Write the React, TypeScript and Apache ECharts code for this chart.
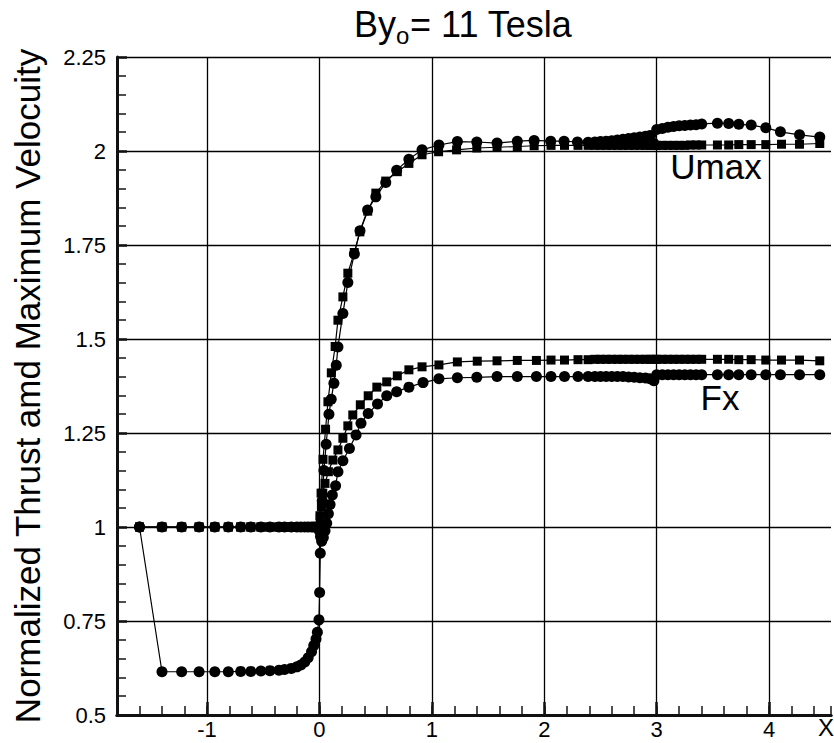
import React, { useEffect, useRef } from "react";
import * as echarts from "echarts";

// ---- Data ----
const X_MAJOR_TICKS = [-1, 0, 1, 2, 3, 4];
const Y_TICKS = [0.5, 0.75, 1, 1.25, 1.5, 1.75, 2, 2.25];

// Umax, circle markers
const umaxCircles: [number, number][] = [
  [-1.6, 1.0], [-1.4, 0.615], [-1.225, 0.615], [-1.07, 0.615], [-0.93, 0.615], [-0.81, 0.615],
  [-0.7, 0.616], [-0.61, 0.616], [-0.52, 0.617], [-0.44, 0.618], [-0.36, 0.619], [-0.31, 0.621],
  [-0.25, 0.624], [-0.2, 0.628], [-0.165, 0.633], [-0.13, 0.641], [-0.1, 0.652], [-0.07, 0.668],
  [-0.05, 0.685], [-0.03, 0.702], [-0.018, 0.72], [-0.004, 0.753], [0.002, 0.826], [0.008, 0.93],
  [0.015, 1.0], [0.025, 1.07], [0.04, 1.15], [0.06, 1.22], [0.085, 1.3], [0.105, 1.34],
  [0.129, 1.382], [0.15, 1.43], [0.165, 1.479], [0.209, 1.568], [0.253, 1.65], [0.311, 1.726],
  [0.361, 1.788], [0.429, 1.843], [0.502, 1.878], [0.59, 1.916], [0.687, 1.949], [0.796, 1.978],
  [0.913, 2.003], [1.063, 2.016], [1.227, 2.025], [1.4, 2.024], [1.58, 2.021], [1.76, 2.026],
  [1.91, 2.028], [2.057, 2.026], [2.176, 2.026], [2.295, 2.024], [2.39, 2.023], [2.45, 2.024],
  [2.5, 2.025], [2.55, 2.026], [2.6, 2.027], [2.65, 2.029], [2.7, 2.031], [2.75, 2.033],
  [2.8, 2.035], [2.85, 2.037], [2.9, 2.039], [2.94, 2.041], [2.975, 2.02], [3.0, 2.057],
  [3.05, 2.06], [3.1, 2.063], [3.15, 2.065], [3.2, 2.067], [3.25, 2.068], [3.3, 2.069],
  [3.35, 2.07], [3.4, 2.072], [3.54, 2.074], [3.64, 2.073], [3.73, 2.071], [3.84, 2.069],
  [3.97, 2.062], [4.1, 2.051], [4.27, 2.043], [4.45, 2.037],
];

// Umax, square markers
const umaxSquares: [number, number][] = [
  [-1.6, 1.0], [-1.4, 1.0], [-1.225, 1.0], [-1.07, 1.0], [-0.93, 1.0], [-0.81, 1.0],
  [-0.7, 1.0], [-0.61, 1.0], [-0.52, 1.0], [-0.44, 1.0], [-0.36, 1.0], [-0.31, 1.0],
  [-0.25, 1.0], [-0.2, 1.0], [-0.165, 1.0], [-0.13, 1.0], [-0.1, 1.0], [-0.07, 1.0],
  [-0.05, 1.0], [-0.03, 1.0], [-0.018, 1.0], [-0.006, 1.0], [0.0, 1.0], [0.005, 1.03],
  [0.015, 1.09], [0.032, 1.18], [0.055, 1.26], [0.076, 1.333], [0.106, 1.41], [0.14, 1.48],
  [0.165, 1.55], [0.209, 1.612], [0.253, 1.675], [0.31, 1.73], [0.36, 1.785], [0.43, 1.84],
  [0.502, 1.888], [0.59, 1.92], [0.693, 1.945], [0.796, 1.967], [0.913, 1.99], [1.06, 1.998],
  [1.22, 2.003], [1.4, 2.008], [1.58, 2.01], [1.76, 2.012], [1.91, 2.014], [2.06, 2.015],
  [2.18, 2.015], [2.3, 2.015], [2.39, 2.015], [2.45, 2.015], [2.5, 2.015], [2.55, 2.015],
  [2.6, 2.015], [2.65, 2.015], [2.7, 2.015], [2.75, 2.015], [2.8, 2.015], [2.85, 2.015],
  [2.9, 2.015], [2.94, 2.015], [2.975, 2.015], [3.0, 2.015], [3.05, 2.015], [3.1, 2.015],
  [3.15, 2.015], [3.2, 2.015], [3.25, 2.015], [3.3, 2.016], [3.35, 2.016], [3.4, 2.016],
  [3.54, 2.016], [3.64, 2.016], [3.73, 2.017], [3.84, 2.017], [3.97, 2.017], [4.11, 2.018],
  [4.27, 2.018], [4.45, 2.02],
];

// Fx, circle markers
const fxCircles: [number, number][] = [
  [-1.6, 1.0], [-1.4, 1.0], [-1.225, 1.0], [-1.07, 1.0], [-0.93, 1.0], [-0.81, 1.0],
  [-0.7, 1.0], [-0.61, 1.0], [-0.52, 1.0], [-0.44, 1.0], [-0.36, 1.0], [-0.31, 1.0],
  [-0.25, 1.0], [-0.2, 1.0], [-0.165, 1.0], [-0.13, 1.0], [-0.1, 1.0], [-0.07, 1.0],
  [-0.05, 1.0], [-0.03, 1.0], [-0.018, 1.0], [-0.006, 1.0], [0.0, 0.99], [0.01, 0.975],
  [0.02, 0.962], [0.035, 0.972], [0.05, 0.99], [0.065, 1.01], [0.08, 1.035], [0.095, 1.06],
  [0.115, 1.085], [0.144, 1.11], [0.165, 1.147], [0.209, 1.176], [0.267, 1.209], [0.326, 1.245],
  [0.37, 1.276], [0.434, 1.302], [0.517, 1.327], [0.599, 1.349], [0.687, 1.36], [0.796, 1.372],
  [0.922, 1.384], [1.063, 1.394], [1.227, 1.397], [1.4, 1.398], [1.58, 1.4], [1.76, 1.4],
  [1.93, 1.4], [2.06, 1.4], [2.18, 1.4], [2.3, 1.4], [2.39, 1.4], [2.45, 1.4],
  [2.5, 1.4], [2.55, 1.4], [2.6, 1.4], [2.65, 1.4], [2.7, 1.4], [2.75, 1.399],
  [2.8, 1.398], [2.85, 1.397], [2.9, 1.396], [2.94, 1.394], [2.975, 1.389], [3.0, 1.405],
  [3.05, 1.405], [3.1, 1.405], [3.15, 1.405], [3.2, 1.405], [3.25, 1.405], [3.3, 1.405],
  [3.35, 1.405], [3.4, 1.405], [3.54, 1.405], [3.64, 1.405], [3.73, 1.405], [3.84, 1.405],
  [3.97, 1.405], [4.1, 1.405], [4.27, 1.405], [4.45, 1.405],
];

// Fx, square markers
const fxSquares: [number, number][] = [
  [-1.6, 1.0], [-1.4, 1.0], [-1.225, 1.0], [-1.07, 1.0], [-0.93, 1.0], [-0.81, 1.0],
  [-0.7, 1.0], [-0.61, 1.0], [-0.52, 1.0], [-0.44, 1.0], [-0.36, 1.0], [-0.31, 1.0],
  [-0.25, 1.0], [-0.2, 1.0], [-0.165, 1.0], [-0.13, 1.0], [-0.1, 1.0], [-0.07, 1.0],
  [-0.05, 1.0], [-0.03, 1.0], [-0.018, 1.0], [-0.006, 1.0], [0.0, 1.0], [0.008, 1.023],
  [0.018, 1.054], [0.03, 1.09], [0.05, 1.116], [0.08, 1.147], [0.12, 1.178], [0.165, 1.205],
  [0.209, 1.236], [0.253, 1.269], [0.297, 1.298], [0.364, 1.325], [0.434, 1.349], [0.511, 1.372],
  [0.599, 1.386], [0.693, 1.402], [0.796, 1.418], [0.913, 1.426], [1.063, 1.431], [1.227, 1.439],
  [1.404, 1.441], [1.58, 1.442], [1.76, 1.443], [1.93, 1.443], [2.06, 1.444], [2.18, 1.444],
  [2.3, 1.445], [2.39, 1.445], [2.45, 1.446], [2.5, 1.446], [2.55, 1.446], [2.6, 1.446],
  [2.65, 1.446], [2.7, 1.446], [2.75, 1.446], [2.8, 1.446], [2.85, 1.446], [2.9, 1.446],
  [2.94, 1.446], [2.975, 1.446], [3.0, 1.446], [3.05, 1.446], [3.1, 1.446], [3.15, 1.446],
  [3.2, 1.446], [3.25, 1.446], [3.3, 1.446], [3.35, 1.446], [3.4, 1.446], [3.54, 1.446],
  [3.64, 1.446], [3.73, 1.445], [3.84, 1.445], [3.97, 1.444], [4.11, 1.444], [4.27, 1.444],
  [4.45, 1.442],
];

const FONT = "'Liberation Sans', Arial, Helvetica, sans-serif";
const AXIS_COLOR = "#111111";
const TICK_COLOR = "#121212";
const MINOR_COLOR = "#141414";

export default function App() {
  const ref = useRef<HTMLDivElement>(null);

  useEffect(() => {
    if (!ref.current) return;
    const chart = echarts.init(ref.current, undefined, { renderer: "svg" });

    const mkSeries = (name: string, data: [number, number][], symbol: string, size: number) => ({
      name,
      type: "line",
      data,
      symbol,
      symbolSize: size,
      showSymbol: true,
      lineStyle: { color: "#000", width: 1.2 },
      itemStyle: { color: "#000", borderWidth: 0 },
    });

    chart.setOption({
      animation: false,
      backgroundColor: "#fff",
      grid: { left: 117, right: 0, top: 57, bottom: 28 },
      xAxis: [
        {
          type: "value",
          min: -1.8,
          max: 4.55,
          position: "bottom",
          axisLine: { show: true, onZero: false, lineStyle: { color: AXIS_COLOR, width: 3 } },
          axisTick: {
            show: true,
            inside: true,
            length: 13,
            customValues: X_MAJOR_TICKS,
            lineStyle: { color: TICK_COLOR, width: 2.5 },
          },
          axisLabel: {
            customValues: X_MAJOR_TICKS,
            fontFamily: FONT,
            fontSize: 22,
            color: "#000",
            margin: 3,
          },
          splitLine: { show: true, lineStyle: { color: "#000", width: 1.3 } },
        },
        {
          // minor ticks every 0.2 along the bottom edge
          type: "value",
          min: -1.8,
          max: 4.55,
          interval: 0.2,
          position: "bottom",
          axisLine: { show: true, onZero: false, lineStyle: { color: AXIS_COLOR, width: 3 } },
          axisTick: { show: true, inside: true, length: 9, lineStyle: { color: MINOR_COLOR, width: 1.5 } },
          axisLabel: { show: true, formatter: () => "" },
          splitLine: { show: false },
        },
      ],
      yAxis: {
        type: "value",
        min: 0.5,
        max: 2.25,
        interval: 0.25,
        name: "Normalized Thrust amd Maximum Velocuity",
        nameLocation: "middle",
        nameRotate: 90,
        nameGap: 72,
        nameTextStyle: { fontFamily: FONT, fontSize: 35, color: "#000" },
        axisLine: { show: true, onZero: false, lineStyle: { color: AXIS_COLOR, width: 3 } },
        axisTick: { show: true, inside: true, length: 10, lineStyle: { color: TICK_COLOR, width: 2.5 } },
        minorTick: { show: true, splitNumber: 5, length: 9, lineStyle: { color: MINOR_COLOR, width: 1.5 } },
        axisLabel: {
          fontFamily: FONT,
          fontSize: 22,
          color: "#000",
          margin: 11,
          formatter: (v: number) => (Y_TICKS.includes(v) ? String(v) : ""),
        },
        splitLine: { show: true, lineStyle: { color: "#000", width: 1.3 } },
      },
      series: [
        mkSeries("Umax circles", umaxCircles, "circle", 11),
        mkSeries("Umax squares", umaxSquares, "rect", 9),
        mkSeries("Fx circles", fxCircles, "circle", 11),
        mkSeries("Fx squares", fxSquares, "rect", 9),
      ],
      graphic: [
        {
          type: "text",
          x: 354,
          y: 24,
          style: { text: "By", font: `36px ${FONT}`, fill: "#000", align: "left", verticalAlign: "middle" },
        },
        {
          type: "text",
          x: 396,
          y: 35,
          style: { text: "o", font: `24px ${FONT}`, fill: "#000", align: "left", verticalAlign: "middle" },
        },
        {
          type: "text",
          x: 410,
          y: 24,
          style: { text: "= 11 Tesla", font: `36px ${FONT}`, fill: "#000", align: "left", verticalAlign: "middle" },
        },
        {
          type: "text",
          x: 716,
          y: 166,
          style: { text: "Umax", font: `35px ${FONT}`, fill: "#000", align: "center", verticalAlign: "middle" },
        },
        {
          type: "text",
          x: 720,
          y: 397,
          style: { text: "Fx", font: `35px ${FONT}`, fill: "#000", align: "center", verticalAlign: "middle" },
        },
        {
          type: "text",
          x: 826,
          y: 727,
          style: { text: "X", font: `24px ${FONT}`, fill: "#000", align: "center", verticalAlign: "middle" },
        },
      ],
    });

    return () => chart.dispose();
  }, []);

  return (
    <div
      ref={ref}
      style={{ position: "absolute", left: 0, top: 0, width: 834, height: 743, background: "#fff" }}
    />
  );
}
